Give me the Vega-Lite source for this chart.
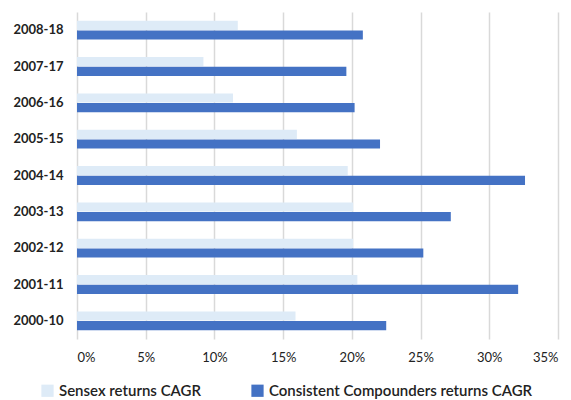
{
  "$schema": "https://vega.github.io/schema/vega-lite/v6.json",
  "width": 481,
  "height": 327,
  "autosize": "none",
  "padding": {"left": 77, "top": 12, "right": 13, "bottom": 61},
  "background": "white",
  "data": {
    "values": [
      {"period": "2008-18", "series": "Sensex returns CAGR", "value": 0.117},
      {"period": "2008-18", "series": "Consistent Compounders returns CAGR", "value": 0.208},
      {"period": "2007-17", "series": "Sensex returns CAGR", "value": 0.092},
      {"period": "2007-17", "series": "Consistent Compounders returns CAGR", "value": 0.196},
      {"period": "2006-16", "series": "Sensex returns CAGR", "value": 0.1135},
      {"period": "2006-16", "series": "Consistent Compounders returns CAGR", "value": 0.202},
      {"period": "2005-15", "series": "Sensex returns CAGR", "value": 0.160},
      {"period": "2005-15", "series": "Consistent Compounders returns CAGR", "value": 0.2205},
      {"period": "2004-14", "series": "Sensex returns CAGR", "value": 0.197},
      {"period": "2004-14", "series": "Consistent Compounders returns CAGR", "value": 0.326},
      {"period": "2003-13", "series": "Sensex returns CAGR", "value": 0.201},
      {"period": "2003-13", "series": "Consistent Compounders returns CAGR", "value": 0.272},
      {"period": "2002-12", "series": "Sensex returns CAGR", "value": 0.201},
      {"period": "2002-12", "series": "Consistent Compounders returns CAGR", "value": 0.252},
      {"period": "2001-11", "series": "Sensex returns CAGR", "value": 0.204},
      {"period": "2001-11", "series": "Consistent Compounders returns CAGR", "value": 0.321},
      {"period": "2000-10", "series": "Sensex returns CAGR", "value": 0.159},
      {"period": "2000-10", "series": "Consistent Compounders returns CAGR", "value": 0.225}
    ]
  },
  "mark": {"type": "bar"},
  "encoding": {
    "y": {
      "field": "period",
      "type": "nominal",
      "sort": ["2008-18", "2007-17", "2006-16", "2005-15", "2004-14", "2003-13", "2002-12", "2001-11", "2000-10"],
      "scale": {"paddingInner": 0.48, "paddingOuter": 0.24},
      "axis": {
        "title": null,
        "domain": false,
        "ticks": false,
        "labelFont": "Lato",
        "labelFontWeight": "bold",
        "labelFontSize": 13,
        "labelColor": "#222222",
        "labelPadding": 14
      }
    },
    "yOffset": {
      "field": "series",
      "type": "nominal",
      "sort": ["Sensex returns CAGR", "Consistent Compounders returns CAGR"],
      "scale": {"paddingInner": 0.05}
    },
    "x": {
      "field": "value",
      "type": "quantitative",
      "scale": {"domain": [0, 0.35], "nice": false},
      "axis": {
        "title": null,
        "format": ".0%",
        "values": [0, 0.05, 0.1, 0.15, 0.2, 0.25, 0.3, 0.35],
        "domain": false,
        "ticks": false,
        "grid": true,
        "gridColor": "#d9d9d9",
        "gridWidth": 1.5,
        "labelFont": "Lato",
        "labelFontSize": 13,
        "labelColor": "#222222",
        "labelPadding": 12
      }
    },
    "color": {
      "field": "series",
      "type": "nominal",
      "sort": ["Sensex returns CAGR", "Consistent Compounders returns CAGR"],
      "scale": {"domain": ["Sensex returns CAGR", "Consistent Compounders returns CAGR"], "range": ["#deebf7", "#4472c4"]},
      "legend": {
        "title": null,
        "orient": "none",
        "direction": "horizontal",
        "legendX": -37,
        "legendY": 371,
        "symbolType": "square",
        "symbolSize": 150,
        "symbolStrokeWidth": 0,
        "labelFont": "Lato",
        "labelFontSize": 15,
        "labelFontWeight": 600,
        "labelLimit": 400,
        "labelColor": "#222222",
        "labelOffset": 4,
        "columnPadding": 48
      }
    }
  },
  "config": {"view": {"stroke": null}}
}
